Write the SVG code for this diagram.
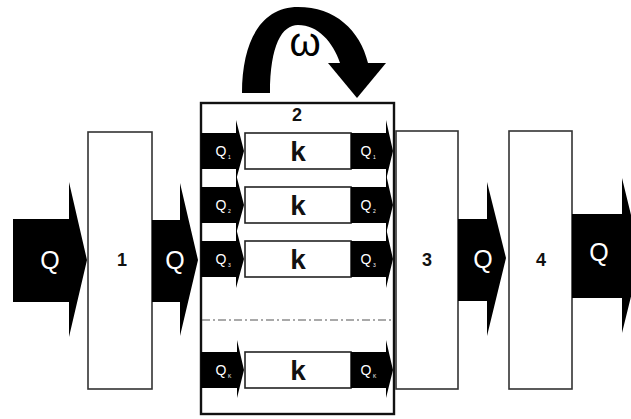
<svg xmlns="http://www.w3.org/2000/svg" width="631" height="419" viewBox="0 0 631 419">
<style>
.box{fill:#fff;stroke:#333;stroke-width:1.6}
.arr{fill:#000}
.qt{fill:#fff;font-family:"Liberation Sans",Arial,sans-serif;font-size:25px;text-anchor:middle}
.sq{fill:#fff;font-family:"Liberation Sans",Arial,sans-serif;font-size:14px;text-anchor:middle}
.sub{fill:#fff;font-family:"Liberation Sans",Arial,sans-serif;font-size:5px}
.num{fill:#111;font-family:"Liberation Sans",Arial,sans-serif;font-size:18px;font-weight:bold;text-anchor:middle}
.k{fill:#111;font-family:"Liberation Sans",Arial,sans-serif;font-size:28px;font-weight:bold;text-anchor:middle}
.kb{fill:#fff;stroke:#222;stroke-width:1.6}
</style>
<rect width="631" height="419" fill="#fff"/>
<g id="rotation">
<path class="arr" d="M242,93 C242,40 262,7 298,7 C335,7 360,30 368,63 L340,63 C333,42 318,25 298,25 C282,25 270,45 270,93 Z"/>
<polygon class="arr" points="328,63 386,63 357,98"/>
<text x="305" y="56" fill="#000" font-family="Liberation Sans, Arial, sans-serif" font-size="40" text-anchor="middle">ω</text>
</g>
<g id="box1">
<rect class="box" x="88" y="132" width="64" height="257"/>
<text class="num" x="122" y="266">1</text>
</g>
<g id="box2">
<rect x="201" y="103" width="193" height="311" fill="#fff" stroke="#111" stroke-width="2.4"/>
<text class="num" x="297" y="121">2</text>
<line x1="202" y1="320" x2="393" y2="320" stroke="#555" stroke-width="1.2" stroke-dasharray="8 3 2 3"/>
</g>
<g id="box3">
<rect class="box" x="396" y="131" width="62" height="258"/>
<text class="num" x="427" y="266">3</text>
</g>
<g id="box4">
<rect class="box" x="509" y="131" width="63" height="258"/>
<text class="num" x="541" y="266">4</text>
</g>
<g id="rows">
<g id="row1">
<path class="arr" d="M201,133 H236 V120 L244,151 L236,180 V169 H201 Z"/>
<rect class="kb" x="245" y="133" width="106" height="36"/>
<text class="k" x="298" y="161">k</text>
<path class="arr" d="M351,133 H386 V120 L393,151 L386,180 V169 H351 Z"/>
<text class="sq" x="221" y="156">Q</text><text class="sub" x="228" y="159">1</text>
<text class="sq" x="366" y="156">Q</text><text class="sub" x="373" y="159">1</text>
</g>
<g id="row2">
<path class="arr" d="M201,187 H236 V174 L244,205 L236,234 V223 H201 Z"/>
<rect class="kb" x="245" y="187" width="106" height="36"/>
<text class="k" x="298" y="215">k</text>
<path class="arr" d="M351,187 H386 V174 L393,205 L386,234 V223 H351 Z"/>
<text class="sq" x="221" y="210">Q</text><text class="sub" x="228" y="213">2</text>
<text class="sq" x="366" y="210">Q</text><text class="sub" x="373" y="213">2</text>
</g>
<g id="row3">
<path class="arr" d="M201,241 H236 V228 L244,259 L236,288 V277 H201 Z"/>
<rect class="kb" x="245" y="241" width="106" height="36"/>
<text class="k" x="298" y="269">k</text>
<path class="arr" d="M351,241 H386 V228 L393,259 L386,288 V277 H351 Z"/>
<text class="sq" x="221" y="264">Q</text><text class="sub" x="228" y="267">3</text>
<text class="sq" x="366" y="264">Q</text><text class="sub" x="373" y="267">3</text>
</g>
<g id="row4">
<path class="arr" d="M201,352 H237 V340 L244,370 L237,398 V388 H201 Z"/>
<rect class="kb" x="245" y="352" width="106" height="36"/>
<text class="k" x="298" y="380">k</text>
<path class="arr" d="M351,352 H386 V340 L393,370 L386,398 V388 H351 Z"/>
<text class="sq" x="221" y="375">Q</text><text class="sub" x="228" y="378">K</text>
<text class="sq" x="366" y="375">Q</text><text class="sub" x="373" y="378">K</text>
</g>
</g>
<g id="connectors">
<path class="arr" d="M13,219 H69 V182 L87,260 L69,337 V302 H13 Z"/>
<text class="qt" x="50" y="269">Q</text>
<path class="arr" d="M152,220 H180 V183 L198,260 L180,336 V302 H152 Z"/>
<text class="qt" x="175" y="269">Q</text>
<path class="arr" d="M458,219 H487 V182 L506,258 L487,336 V301 H458 Z"/>
<text class="qt" x="483" y="268">Q</text>
<path class="arr" d="M572,214 H622 V178 L641,256 L622,333 V298 H572 Z"/>
<text class="qt" x="599" y="261">Q</text>
</g>
</svg>
